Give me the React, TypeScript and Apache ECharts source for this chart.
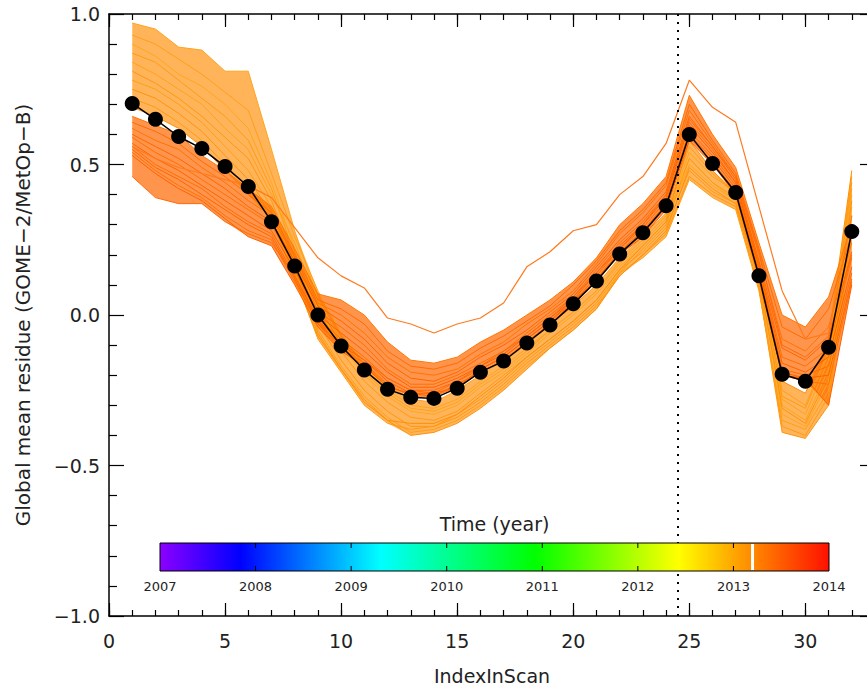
import React, { useEffect, useRef } from 'react';
import * as echarts from 'echarts';

const indexInScan = [1, 2, 3, 4, 5, 6, 7, 8, 9, 10, 11, 12, 13, 14, 15, 16, 17, 18, 19, 20, 21, 22, 23, 24, 25, 26, 27, 28, 29, 30, 31, 32];

const meanResidue = [0.703, 0.65, 0.593, 0.553, 0.493, 0.427, 0.31, 0.163, 0.0, -0.103, -0.183, -0.247, -0.273, -0.277, -0.243, -0.19, -0.153, -0.093, -0.033, 0.037, 0.113, 0.203, 0.273, 0.363, 0.6, 0.503, 0.407, 0.13, -0.197, -0.22, -0.107, 0.277];

// earlier orbits (lighter orange)
const earlyLines = [
  [0.97, 0.95, 0.89, 0.88, 0.81, 0.81, 0.55, 0.28, 0.05, -0.08, -0.17, -0.25, -0.30, -0.31, -0.28, -0.22, -0.17, -0.11, -0.05, 0.01, 0.08, 0.17, 0.24, 0.32, 0.52, 0.44, 0.38, 0.12, -0.30, -0.35, -0.18, 0.40],
  [0.93, 0.90, 0.85, 0.80, 0.74, 0.68, 0.47, 0.26, 0.08, -0.06, -0.16, -0.23, -0.28, -0.29, -0.25, -0.20, -0.15, -0.10, -0.03, 0.03, 0.10, 0.19, 0.26, 0.34, 0.56, 0.47, 0.40, 0.17, -0.25, -0.30, -0.12, 0.46],
  [0.90, 0.86, 0.80, 0.76, 0.70, 0.62, 0.44, 0.22, 0.02, -0.10, -0.20, -0.27, -0.32, -0.33, -0.30, -0.24, -0.19, -0.13, -0.06, 0.00, 0.07, 0.16, 0.23, 0.31, 0.50, 0.43, 0.38, 0.14, -0.33, -0.37, -0.22, 0.36],
  [0.87, 0.84, 0.78, 0.72, 0.66, 0.58, 0.42, 0.20, 0.00, -0.12, -0.22, -0.29, -0.34, -0.35, -0.32, -0.26, -0.20, -0.14, -0.08, -0.02, 0.05, 0.15, 0.21, 0.29, 0.48, 0.41, 0.37, 0.11, -0.37, -0.40, -0.27, 0.30],
  [0.84, 0.80, 0.75, 0.70, 0.62, 0.55, 0.40, 0.24, 0.04, -0.09, -0.19, -0.26, -0.31, -0.32, -0.29, -0.23, -0.18, -0.12, -0.05, 0.01, 0.08, 0.18, 0.25, 0.33, 0.54, 0.46, 0.41, 0.16, -0.28, -0.33, -0.15, 0.42],
  [0.81, 0.77, 0.72, 0.66, 0.59, 0.52, 0.38, 0.18, -0.03, -0.15, -0.25, -0.32, -0.37, -0.37, -0.34, -0.29, -0.23, -0.16, -0.10, -0.04, 0.03, 0.13, 0.20, 0.27, 0.46, 0.40, 0.36, 0.09, -0.39, -0.41, -0.30, 0.27],
  [0.78, 0.75, 0.70, 0.64, 0.56, 0.48, 0.36, 0.15, -0.05, -0.17, -0.27, -0.34, -0.39, -0.38, -0.35, -0.30, -0.24, -0.17, -0.11, -0.05, 0.02, 0.14, 0.19, 0.26, 0.45, 0.39, 0.35, 0.08, -0.35, -0.38, -0.25, 0.33],
  [0.75, 0.72, 0.67, 0.61, 0.53, 0.45, 0.34, 0.14, -0.06, -0.18, -0.28, -0.35, -0.40, -0.39, -0.36, -0.31, -0.25, -0.18, -0.11, -0.05, 0.02, 0.13, 0.20, 0.28, 0.49, 0.42, 0.37, 0.13, -0.31, -0.36, -0.20, 0.38],
  [0.72, 0.69, 0.64, 0.58, 0.50, 0.42, 0.33, 0.13, -0.08, -0.19, -0.30, -0.36, -0.38, -0.37, -0.33, -0.28, -0.22, -0.15, -0.09, -0.03, 0.04, 0.14, 0.22, 0.30, 0.52, 0.44, 0.39, 0.15, -0.27, -0.31, -0.13, 0.44],
  [0.69, 0.66, 0.62, 0.56, 0.48, 0.40, 0.32, 0.12, -0.07, -0.18, -0.29, -0.35, -0.36, -0.36, -0.33, -0.27, -0.21, -0.14, -0.08, -0.02, 0.05, 0.15, 0.23, 0.31, 0.58, 0.48, 0.40, 0.18, -0.22, -0.26, -0.08, 0.48],
];

// later orbits (darker orange)
const lateLines = [
  [0.66, 0.63, 0.60, 0.53, 0.48, 0.42, 0.36, 0.22, 0.07, 0.05, 0.00, -0.09, -0.15, -0.16, -0.14, -0.09, -0.05, 0.00, 0.05, 0.11, 0.19, 0.30, 0.37, 0.46, 0.73, 0.60, 0.49, 0.24, 0.00, -0.04, 0.06, 0.30],
  [0.64, 0.61, 0.57, 0.51, 0.46, 0.40, 0.34, 0.20, 0.05, 0.02, -0.03, -0.12, -0.17, -0.18, -0.16, -0.11, -0.07, -0.02, 0.03, 0.10, 0.18, 0.28, 0.35, 0.44, 0.70, 0.58, 0.47, 0.22, -0.04, -0.08, 0.02, 0.27],
  [0.62, 0.58, 0.55, 0.49, 0.44, 0.38, 0.33, 0.19, 0.04, 0.00, -0.06, -0.14, -0.19, -0.20, -0.18, -0.13, -0.09, -0.03, 0.02, 0.08, 0.17, 0.27, 0.34, 0.43, 0.68, 0.57, 0.46, 0.20, -0.08, -0.12, -0.04, 0.24],
  [0.60, 0.56, 0.52, 0.47, 0.42, 0.36, 0.31, 0.18, 0.03, -0.02, -0.08, -0.16, -0.21, -0.22, -0.19, -0.14, -0.10, -0.05, 0.01, 0.07, 0.16, 0.25, 0.32, 0.41, 0.66, 0.56, 0.45, 0.18, -0.11, -0.15, -0.08, 0.21],
  [0.59, 0.54, 0.50, 0.45, 0.40, 0.35, 0.30, 0.16, 0.01, -0.04, -0.10, -0.18, -0.23, -0.23, -0.20, -0.16, -0.12, -0.06, 0.00, 0.06, 0.15, 0.24, 0.31, 0.40, 0.64, 0.55, 0.44, 0.17, -0.14, -0.17, -0.11, 0.19],
  [0.57, 0.52, 0.48, 0.43, 0.38, 0.33, 0.28, 0.15, 0.00, -0.06, -0.12, -0.19, -0.24, -0.24, -0.21, -0.17, -0.13, -0.07, -0.01, 0.05, 0.14, 0.23, 0.30, 0.39, 0.63, 0.54, 0.44, 0.16, -0.16, -0.19, -0.14, 0.16],
  [0.56, 0.50, 0.46, 0.42, 0.36, 0.31, 0.27, 0.13, -0.01, -0.08, -0.14, -0.21, -0.25, -0.26, -0.22, -0.18, -0.14, -0.08, -0.02, 0.04, 0.13, 0.22, 0.29, 0.38, 0.61, 0.53, 0.43, 0.15, -0.18, -0.20, -0.17, 0.14],
  [0.55, 0.49, 0.45, 0.40, 0.35, 0.30, 0.26, 0.12, -0.03, -0.10, -0.15, -0.22, -0.26, -0.27, -0.23, -0.19, -0.15, -0.09, -0.03, 0.03, 0.12, 0.21, 0.28, 0.37, 0.60, 0.52, 0.42, 0.14, -0.19, -0.21, -0.20, 0.12],
  [0.54, 0.48, 0.43, 0.39, 0.33, 0.28, 0.25, 0.11, -0.02, -0.11, -0.16, -0.23, -0.27, -0.27, -0.24, -0.19, -0.15, -0.09, -0.03, 0.04, 0.12, 0.21, 0.27, 0.36, 0.59, 0.51, 0.41, 0.13, -0.20, -0.22, -0.23, 0.11],
  [0.53, 0.47, 0.42, 0.38, 0.32, 0.26, 0.23, 0.10, -0.04, -0.12, -0.17, -0.24, -0.26, -0.26, -0.24, -0.18, -0.14, -0.08, -0.02, 0.05, 0.11, 0.20, 0.26, 0.35, 0.58, 0.50, 0.40, 0.12, -0.20, -0.21, -0.30, 0.10],
  [0.46, 0.39, 0.37, 0.37, 0.31, 0.27, 0.24, 0.13, -0.02, -0.09, -0.15, -0.21, -0.25, -0.25, -0.22, -0.17, -0.12, -0.07, -0.01, 0.06, 0.14, 0.22, 0.30, 0.40, 0.65, 0.56, 0.46, 0.21, -0.10, -0.14, -0.07, 0.20],
];

const outlierLine = [0.56, 0.52, 0.49, 0.47, 0.45, 0.43, 0.39, 0.29, 0.19, 0.13, 0.09, -0.01, -0.03, -0.06, -0.03, -0.01, 0.04, 0.16, 0.21, 0.28, 0.30, 0.40, 0.46, 0.57, 0.78, 0.69, 0.64, 0.36, 0.08, -0.08, -0.06, 0.33];

const earlyColors = ['#ffa41c', '#ff9f18', '#ffa61e', '#ff9a14', '#ffa21a', '#ff9610', '#ff9e16', '#ff920c', '#ff9a12', '#ff8e08'];
const lateColors = ['#ff7800', '#ff6c00', '#ff7400', '#ff6600', '#ff7000', '#ff6200', '#ff6e00', '#ff6400', '#ff7200', '#ff6000', '#ff6a08'];
const outlierColor = '#ff7a1e';

const yearLabels = ['2007', '2008', '2009', '2010', '2011', '2012', '2013', '2014'];
const colorbarStops = [
  { offset: 0, color: '#8c00ff' },
  { offset: 0.12, color: '#0000ff' },
  { offset: 0.33, color: '#00ffff' },
  { offset: 0.56, color: '#00ff00' },
  { offset: 0.775, color: '#ffff00' },
  { offset: 0.87, color: '#ff9900' },
  { offset: 1, color: '#ff1000' },
];
const whiteMarkYear = 2013.2;
const dividerIndex = 24.5;

const FONT = 'DejaVu Sans';
const TXT = '#222222';

function envelope(lines: number[][]) {
  const lo = indexInScan.map((_, i) => Math.min(...lines.map((l) => l[i])));
  const hi = indexInScan.map((_, i) => Math.max(...lines.map((l) => l[i])));
  return { lo, hi };
}

function bandSeries(lines: number[][], fill: string) {
  const { lo, hi } = envelope(lines);
  return {
    type: 'custom',
    xAxisIndex: 0,
    yAxisIndex: 0,
    silent: true,
    z: 1,
    clip: true,
    data: [[indexInScan[0], lo[0]]],
    renderItem: (_params: any, api: any) => {
      const top = hi.map((v, i) => api.coord([indexInScan[i], v]));
      const bot = lo.map((v, i) => api.coord([indexInScan[i], v])).reverse();
      return { type: 'polygon', shape: { points: top.concat(bot) }, style: { fill, stroke: null } };
    },
  };
}

function lineSeries(values: number[], color: string, width = 1) {
  return {
    type: 'line',
    xAxisIndex: 0,
    yAxisIndex: 0,
    data: values.map((v, i) => [indexInScan[i], v]),
    showSymbol: false,
    symbol: 'none',
    silent: true,
    z: 2,
    lineStyle: { color, width },
  };
}

function fmtY(v: number) {
  const s = Math.abs(v).toFixed(1);
  return v < 0 ? '\u2212' + s : s;
}

export default function App() {
  const ref = useRef<HTMLDivElement>(null);
  useEffect(() => {
    if (!ref.current) return;
    const chart = echarts.init(ref.current, undefined, { renderer: 'svg' });

    const barL = 160, barR = 829, barT = 543, barB = 571;
    const step = (barR - barL) / (yearLabels.length - 1);
    const graphics: any[] = [
      {
        type: 'text', x: (barL + barR) / 2, y: 524, z: 100,
        style: { text: 'Time (year)', fontSize: 19, fontFamily: FONT, fill: TXT, align: 'center', verticalAlign: 'middle' },
      },
      {
        type: 'rect', z: 100,
        shape: { x: barL, y: barT, width: barR - barL, height: barB - barT },
        style: { fill: new echarts.graphic.LinearGradient(0, 0, 1, 0, colorbarStops), stroke: '#000', lineWidth: 1 },
      },
      {
        type: 'line', z: 101,
        shape: { x1: barL + (whiteMarkYear - 2007) * step, y1: barT + 1, x2: barL + (whiteMarkYear - 2007) * step, y2: barB - 1 },
        style: { stroke: '#ffffff', lineWidth: 3 },
      },
    ];
    yearLabels.forEach((lab, k) => {
      const x = barL + k * step;
      graphics.push({
        type: 'text', x, y: 586, z: 100,
        style: { text: lab, fontSize: 13, fontFamily: FONT, fill: TXT, align: 'center', verticalAlign: 'middle' },
      });
      if (k > 0 && k < yearLabels.length - 1) {
        graphics.push({ type: 'line', z: 101, shape: { x1: x, y1: barT, x2: x, y2: barT + 5 }, style: { stroke: '#000', lineWidth: 1 } });
        graphics.push({ type: 'line', z: 101, shape: { x1: x, y1: barB - 5, x2: x, y2: barB }, style: { stroke: '#000', lineWidth: 1 } });
      }
    });

    const axisLineStyle = { onZero: false, lineStyle: { color: '#000', width: 1.5 } };
    const baseX = { type: 'value', min: 0, max: 33, gridIndex: 0, splitLine: { show: false } };
    const tickStyle = { color: '#000', width: 1.2 };

    const series: any[] = [
      bandSeries(earlyLines, 'rgba(255,148,20,0.7)'),
      bandSeries(lateLines, 'rgba(255,104,0,0.7)'),
      ...earlyLines.map((l, i) => lineSeries(l, earlyColors[i])),
      ...lateLines.map((l, i) => lineSeries(l, lateColors[i])),
      lineSeries(outlierLine, outlierColor, 1.2),
      {
        type: 'line',
        xAxisIndex: 0,
        yAxisIndex: 0,
        data: meanResidue.map((v, i) => [indexInScan[i], v]),
        symbol: 'circle',
        symbolSize: 15,
        showSymbol: true,
        z: 5,
        silent: true,
        lineStyle: { color: '#000', width: 1.5 },
        itemStyle: { color: '#000' },
        markLine: {
          silent: true,
          symbol: 'none',
          label: { show: false },
          lineStyle: { color: '#000', width: 2, type: [2, 6] },
          data: [{ xAxis: dividerIndex }],
        },
      },
    ];

    chart.setOption({
      animation: false,
      backgroundColor: '#ffffff',
      textStyle: { fontFamily: FONT },
      grid: { left: 109, top: 14, width: 766, height: 602, containLabel: false, outerBoundsMode: 'none' },
      graphic: graphics,
      xAxis: [
        {
          ...baseX, position: 'bottom', interval: 5,
          name: 'IndexInScan', nameLocation: 'middle', nameGap: 50,
          nameTextStyle: { fontSize: 19, fontFamily: FONT, color: TXT },
          axisLine: { show: true, ...axisLineStyle },
          axisTick: { show: true, inside: true, length: 13, lineStyle: tickStyle },
          axisLabel: {
            show: true, margin: 15, fontSize: 19, fontFamily: FONT, color: TXT,
            formatter: (v: number) => (Math.abs(v % 5) < 1e-6 ? String(v) : ''),
          },
        },
        {
          ...baseX, position: 'bottom', interval: 1,
          axisLine: { show: false, onZero: false },
          axisTick: { show: true, inside: true, length: 6, lineStyle: tickStyle },
          axisLabel: { show: false },
        },
        {
          ...baseX, position: 'top', interval: 5,
          axisLine: { show: true, ...axisLineStyle },
          axisTick: { show: true, inside: true, length: 13, lineStyle: tickStyle },
          axisLabel: { show: false },
        },
        {
          ...baseX, position: 'top', interval: 1,
          axisLine: { show: false, onZero: false },
          axisTick: { show: true, inside: true, length: 6, lineStyle: tickStyle },
          axisLabel: { show: false },
        },
      ],
      yAxis: [
        {
          type: 'value', min: -1, max: 1, interval: 0.5, position: 'left',
          name: 'Global mean residue (GOME\u22122/MetOp\u2212B)', nameLocation: 'middle', nameGap: 76,
          nameTextStyle: { fontSize: 20, fontFamily: FONT, color: TXT },
          splitLine: { show: false },
          axisLine: { show: true, ...axisLineStyle },
          axisTick: { show: true, inside: true, length: 15, lineStyle: tickStyle },
          minorTick: { show: true, splitNumber: 5, length: 8, lineStyle: tickStyle },
          axisLabel: { show: true, margin: 9, fontSize: 19, fontFamily: FONT, color: TXT, formatter: fmtY },
        },
        {
          type: 'value', min: -1, max: 1, interval: 0.5, position: 'right',
          splitLine: { show: false },
          axisLine: { show: true, ...axisLineStyle },
          axisTick: { show: true, inside: true, length: 15, lineStyle: tickStyle },
          minorTick: { show: true, splitNumber: 5, length: 8, lineStyle: tickStyle },
          axisLabel: { show: false },
        },
      ],
      series,
    });

    return () => chart.dispose();
  }, []);

  return <div ref={ref} style={{ position: 'fixed', left: 0, top: 0, width: 867, height: 691 }} />;
}
